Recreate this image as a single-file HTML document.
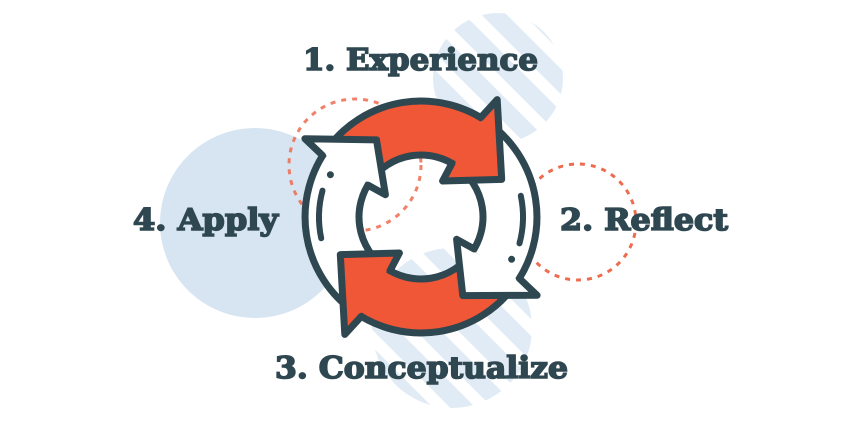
<!DOCTYPE html>
<html><head><meta charset="utf-8"><style>
html,body{margin:0;padding:0;background:#fff;width:850px;height:428px;overflow:hidden}
text{font-family:"DejaVu Serif","Liberation Serif",serif;font-weight:bold;fill:#2e4750;stroke:#2e4750;stroke-width:1.6;font-size:30px}
</style></head><body>
<svg id="s" width="850" height="428" viewBox="0 0 850 428" xmlns="http://www.w3.org/2000/svg">
<defs>
<pattern id="st" patternUnits="userSpaceOnUse" width="30" height="30" patternTransform="rotate(-45)">
<rect width="30" height="30" fill="#fff"/>
<rect width="18" height="30" fill="#e1ebf6"/>
</pattern>
</defs>
<circle cx="498" cy="78" r="65" fill="url(#st)"/>
<circle cx="452" cy="328" r="80" fill="url(#st)"/>
<circle cx="255" cy="223" r="95" fill="#d7e5f2"/>
<circle cx="355" cy="165" r="66" fill="none" stroke="#ee6b4f" stroke-width="3" stroke-dasharray="5 6" opacity="0.85"/>
<circle cx="578" cy="222" r="58" fill="none" stroke="#ee6b4f" stroke-width="3" stroke-dasharray="5 6"/>
<g id="ring"></g>
<text x="303" y="70" textLength="235" lengthAdjust="spacingAndGlyphs">1. Experience</text>
<text x="560" y="230" textLength="168" lengthAdjust="spacingAndGlyphs">2. Reflect</text>
<text x="133" y="230" textLength="145" lengthAdjust="spacingAndGlyphs">4. Apply</text>
<text x="275" y="378" textLength="293" lengthAdjust="spacingAndGlyphs">3. Conceptualize</text>
</svg>
<script>
var cx=421,cy=217,ri=62,ro=116,rm=(ri+ro)/2;
var D="#2e4750",O="#f05736",W="#ffffff";
function P(r,a){a=a*Math.PI/180;return (cx+r*Math.cos(a)).toFixed(1)+","+(cy+r*Math.sin(a)).toFixed(1);}
function body(a0,a1){return "M"+P(ro,a0)+" A"+ro+","+ro+" 0 0 1 "+P(ro,a1)+" L"+P(ri,a1)+" A"+ri+","+ri+" 0 0 0 "+P(ri,a0)+" Z";}
var arrows=[[-144,-55,-25,O],[-55,36,62,W],[36,125,155,O],[125,216,240,W]];
var g=document.getElementById("ring"),h="";
arrows.forEach(function(a){h+='<path d="'+body(a[0],a[1]+1)+'" fill="'+a[3]+'" stroke="'+D+'" stroke-width="7" stroke-linejoin="round"/>';});
arrows.forEach(function(a){
 h+='<path d="M'+P(ro+24,a[1]-2)+" L"+P(rm,a[2])+" L"+P(ri-20,a[1]-4)+" L"+P(ri,a[1]-3)+" L"+P(ro,a[1]-3)+' Z" fill="'+a[3]+'"/>';
 h+='<path d="M'+P(ro+24,a[1]-2)+" L"+P(rm,a[2])+" L"+P(ri-20,a[1]-4)+" M"+P(ri-20,a[1]-4)+" L"+P(ri,a[1]-5)+" M"+P(ro+24,a[1]-2)+" L"+P(ro,a[1]-4)+'" fill="none" stroke="'+D+'" stroke-width="7" stroke-linecap="round" stroke-linejoin="round"/>';
});
var r2=ro-14;
h+='<path d="M'+P(r2,168)+" A"+r2+","+r2+" 0 0 1 "+P(r2,195)+'" fill="none" stroke="'+D+'" stroke-width="6" stroke-linecap="round"/>';
h+='<circle cx="'+P(r2-2,205).split(",")[0]+'" cy="'+P(r2-2,205).split(",")[1]+'" r="3.5" fill="'+D+'"/>';
h+='<path d="M'+P(r2,-12)+" A"+r2+","+r2+" 0 0 1 "+P(r2,15)+'" fill="none" stroke="'+D+'" stroke-width="6" stroke-linecap="round"/>';
h+='<circle cx="'+P(r2-2,25).split(",")[0]+'" cy="'+P(r2-2,25).split(",")[1]+'" r="3.5" fill="'+D+'"/>';
g.innerHTML=h;
</script>
</body></html>
